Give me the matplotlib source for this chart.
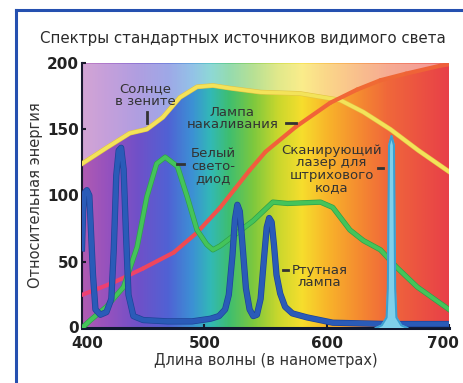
import numpy as np
import matplotlib
matplotlib.use("Agg")
import matplotlib.pyplot as plt
from matplotlib.colors import LinearSegmentedColormap
from matplotlib.collections import LineCollection
from matplotlib.lines import Line2D
from matplotlib.transforms import ScaledTranslation
import matplotlib.patheffects as pe

# ---------------- data ----------------
sun_wl  = [400, 420, 439, 453, 466, 480, 494, 507, 521, 546, 578, 611, 630, 652, 675, 700]
sun_val = [124, 136, 147, 150, 159, 174, 182, 183, 181, 178, 177, 172, 163, 150, 134, 118]

lamp_wl  = [400, 425, 450, 475, 494, 513, 525, 537, 550, 575, 603, 625, 644, 665, 693, 700]
lamp_val = [25, 34, 45, 57, 72, 91, 105, 119, 133, 152, 170, 180, 187, 192, 198, 199]

led_wl  = [400, 407, 420, 434, 445, 453, 461, 468, 478, 486, 494, 502, 507, 513, 523, 540,
           556, 568, 595, 605, 619, 630, 644, 657, 674, 700]
led_val = [0, 6, 16, 31, 61, 99, 124, 129, 122, 99, 74, 63, 59, 62, 69, 81,
           95, 94, 95, 91, 74, 66, 59, 46, 31, 14]

hg_wl  = [400, 401, 402, 404, 406, 407, 409, 411, 415, 420, 424, 426, 428, 430, 432, 434, 436,
          438, 442, 450, 470, 490, 505, 512, 517, 520, 523, 525, 527, 529, 531, 534, 537, 540,
          543, 546, 549, 551, 553, 555, 557, 559, 562, 566, 572, 584, 605, 650, 700]
hg_val = [60, 90, 102, 104, 100, 80, 40, 14, 10, 12, 22, 60, 115, 134, 136, 120, 70,
          25, 9, 6, 5, 5, 7, 9, 14, 25, 55, 82, 93, 88, 65, 30, 14, 9,
          10, 22, 55, 76, 83, 80, 62, 40, 26, 16, 11, 8, 4, 3, 3]

laser_wl  = [640, 645, 649, 650, 651, 653, 655, 656, 657, 661, 666]
laser_val = [0, 2, 8, 30, 138, 145, 138, 30, 8, 2, 0]

xticks = [400, 500, 600, 700]
yticks = [0, 50, 100, 150, 200]

title = "Спектры стандартных источников видимого света"
xlabel = "Длина волны (в нанометрах)"
ylabel = "Относительная энергия"

# ---------------- figure ----------------
W, H = 464, 383
fig = plt.figure(figsize=(W / 100, H / 100), dpi=100)
fig.patch.set_facecolor("white")
ax = fig.add_axes([82 / W, 1 - 328 / H, (449 - 82) / W, (328 - 63) / H])

# spectrum background
anchors = [
    (400, (175, 90, 178)), (420, (150, 82, 190)), (445, (112, 80, 200)),
    (470, (80, 98, 212)), (490, (60, 145, 212)), (505, (50, 185, 182)),
    (520, (62, 190, 112)), (540, (125, 200, 62)), (560, (200, 215, 45)),
    (580, (246, 222, 45)), (600, (248, 182, 42)), (625, (245, 142, 48)),
    (650, (240, 104, 58)), (700, (232, 64, 72)),
]
cm = LinearSegmentedColormap.from_list(
    "spec", [((w - 400) / 300, tuple(c / 255 for c in col)) for w, col in anchors])
grad = np.linspace(0, 1, 600)[None, :]
ax.imshow(grad, extent=(400, 700, 0, 200), aspect="auto", cmap=cm, origin="lower", zorder=0)

# pale region above the sun / lamp curves
grid = np.linspace(400, 700, 601)
upper = np.maximum(np.interp(grid, sun_wl, sun_val), np.interp(grid, lamp_wl, lamp_val))
ax.fill_between(grid, upper, 200, color="white", alpha=0.45, lw=0, zorder=1)

# curves
ax.plot(sun_wl, sun_val, color="#f3e35a", lw=2.6, zorder=3,
        path_effects=[pe.Stroke(linewidth=3.4, foreground="#e2c444"), pe.Normal()])

# incandescent lamp: pink-red on the left, orange on the right
lamp_cm = LinearSegmentedColormap.from_list(
    "lamp", ["#ee3f72", "#f04a52", "#f2603a", "#f06a34", "#ee5e3c"])
pts = np.column_stack([lamp_wl, lamp_val])
segs = np.stack([pts[:-1], pts[1:]], axis=1)
lc = LineCollection(segs, cmap=lamp_cm, linewidths=3, zorder=4, capstyle="round")
lc.set_array((np.array(lamp_wl[:-1]) - 400) / 300)
lc.set_clim(0, 1)
ax.add_collection(lc)

ax.plot(led_wl, led_val, color="#44c45a", lw=2.8, zorder=5,
        path_effects=[pe.Stroke(linewidth=3.8, foreground="#2fa04a"), pe.Normal()])
ax.plot(hg_wl, hg_val, color="#2a5bb8", lw=3.5, zorder=6,
        path_effects=[pe.Stroke(linewidth=4.5, foreground="#1d4398"), pe.Normal()])
ax.fill(laser_wl, laser_val, color="#7fd0ea", zorder=7)
ax.plot(laser_wl, laser_val, color="#3c9fd0", lw=1.5, zorder=8)

ax.set_xlim(400, 700)
ax.set_ylim(0, 200)
ax.set_xticks(xticks)
ax.set_yticks(yticks)
ax.tick_params(direction="in", length=3, width=1.5, colors="#1a1a2a", labelsize=11)
ax.tick_params(axis="x", pad=6)
ax.tick_params(axis="y", pad=2)
for lab in ax.get_xticklabels() + ax.get_yticklabels():
    lab.set_fontweight("bold")
    lab.set_color("#222222")
xl = ax.get_xticklabels()
xl[0].set_transform(xl[0].get_transform() + ScaledTranslation(0.05, 0, fig.dpi_scale_trans))
xl[-1].set_transform(xl[-1].get_transform() + ScaledTranslation(-0.06, 0, fig.dpi_scale_trans))
yl = ax.get_yticklabels()
yl[0].set_transform(yl[0].get_transform() + ScaledTranslation(0, 0.01, fig.dpi_scale_trans))

for s in ["top", "right"]:
    ax.spines[s].set_visible(False)
ax.spines["left"].set_linewidth(1.5)
ax.spines["bottom"].set_linewidth(2.2)
ax.spines["left"].set_color("#1a1a30")
ax.spines["bottom"].set_color("#101830")

# annotations
tk = dict(color="#333333", fontsize=9.5, ha="center", va="center", linespacing=0.95, zorder=10)
ax.text(452, 176, "Солнце\nв зените", **tk)
ax.plot([453, 453], [155, 163], color="#333333", lw=2, zorder=10)
ax.text(523, 158, "Лампа\nнакаливания", **tk)
ax.plot([567, 575], [155, 155], color="#333333", lw=2, zorder=10)
ax.text(507, 122, "Белый\nсвето-\nдиод", **tk)
ax.plot([478, 483], [124, 124], color="#333333", lw=2, zorder=10)
ax.text(604, 120, "Сканирующий\nлазер для\nштрихового\nкода", **tk)
ax.plot([642, 646], [121, 121], color="#333333", lw=2, zorder=10)
ax.text(594, 39, "Ртутная\nлампа", **tk)
ax.plot([564, 568], [44, 44], color="#333333", lw=2, zorder=10)

ax.set_xlabel(xlabel, fontsize=10.5, color="#333333", labelpad=1)
ax.set_ylabel(ylabel, fontsize=10.5, color="#333333", labelpad=3)
fig.text(243 / W, 1 - 38 / H, title, fontsize=10.8, color="#2a2a2a", ha="center", va="center")

# blue frame
fig.add_artist(Line2D([16 / W, 16 / W], [0, 1 - 10 / H], color="#2550b0", lw=2.2))
fig.add_artist(Line2D([16 / W, 1], [1 - 10 / H, 1 - 10 / H], color="#2550b0", lw=2.2))

fig.savefig("out.png", dpi=100)
